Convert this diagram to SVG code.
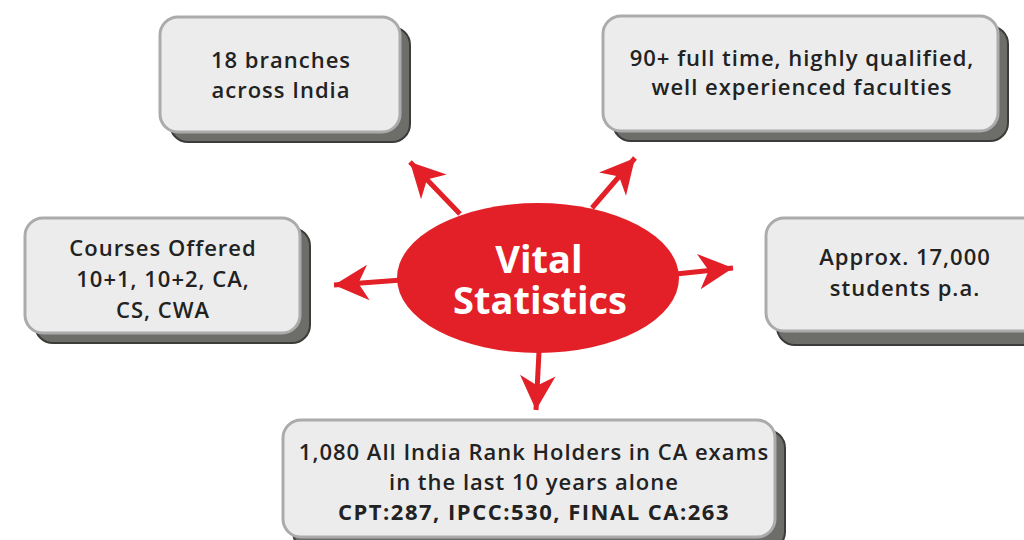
<svg xmlns="http://www.w3.org/2000/svg" width="1024" height="540" viewBox="0 0 1024 540">
<style>
.sh{fill:#6d6d69;stroke:#3c3c3a;stroke-width:2}
.bx{fill:#ececec;stroke:#ababab;stroke-width:3}
.t{font-family:"Open Sans","DejaVu Sans",sans-serif;font-weight:600;font-size:22px;letter-spacing:1px;fill:#222;text-anchor:middle}
.tb{font-weight:700;letter-spacing:1.5px}
.c{stroke:#e32028;stroke-width:5;fill:none}
.title{font-family:"Open Sans","DejaVu Sans",sans-serif;font-weight:700;font-size:38px;fill:#fff;text-anchor:middle}
</style>
<defs>
<marker id="ah" markerUnits="userSpaceOnUse" markerWidth="40" markerHeight="40" viewBox="-32 -18 36 36" refX="0" refY="0" orient="auto">
<path d="M0,0 L-31,-16 L-22,0 L-31,16 Z" fill="#e32028"/>
</marker>
</defs>
<rect width="1024" height="540" fill="#fff"/>
<g id="connectors">
<line class="c" x1="460" y1="214" x2="410" y2="162" marker-end="url(#ah)"/>
<line class="c" x1="592" y1="208" x2="635" y2="158" marker-end="url(#ah)"/>
<line class="c" x1="402" y1="280" x2="334" y2="285" marker-end="url(#ah)"/>
<line class="c" x1="676" y1="274" x2="733" y2="268" marker-end="url(#ah)"/>
<line class="c" x1="539" y1="352" x2="536" y2="410" marker-end="url(#ah)"/>
</g>
<g id="center">
<ellipse cx="538" cy="278" rx="141" ry="75" fill="#e32028"/>
<text class="title" x="539" y="273">Vital</text>
<text class="title" x="540" y="314">Statistics</text>
</g>
<g id="branches">
<rect class="sh" x="170" y="27" width="240" height="115" rx="18"/>
<rect class="bx" x="160" y="17" width="240" height="115" rx="18"/>
<text class="t" x="281" y="68">18 branches</text>
<text class="t" x="281" y="98">across India</text>
</g>
<g id="faculties">
<rect class="sh" x="613" y="26" width="395" height="115" rx="18"/>
<rect class="bx" x="603" y="16" width="395" height="115" rx="18"/>
<text class="t" x="802" y="66">90+ full time, highly qualified,</text>
<text class="t" x="802" y="95">well experienced faculties</text>
</g>
<g id="courses">
<rect class="sh" x="35" y="228" width="275" height="115" rx="18"/>
<rect class="bx" x="25" y="218" width="275" height="115" rx="18"/>
<text class="t" x="163" y="256">Courses Offered</text>
<text class="t" x="163" y="287">10+1, 10+2, CA,</text>
<text class="t" x="163" y="318">CS, CWA</text>
</g>
<g id="students">
<rect class="sh" x="777" y="230" width="280" height="115" rx="18"/>
<rect class="bx" x="766" y="218" width="280" height="113" rx="18"/>
<text class="t" x="905" y="265">Approx. 17,000</text>
<text class="t" x="905" y="296">students p.a.</text>
</g>
<g id="rankholders">
<rect class="sh" x="293" y="430" width="492" height="120" rx="18"/>
<rect class="bx" x="283" y="420" width="492" height="117" rx="18"/>
<text class="t" x="534" y="460">1,080 All India Rank Holders in CA exams</text>
<text class="t" x="534" y="490">in the last 10 years alone</text>
<text class="t tb" x="534" y="520">CPT:287, IPCC:530, FINAL CA:263</text>
</g>
</svg>
